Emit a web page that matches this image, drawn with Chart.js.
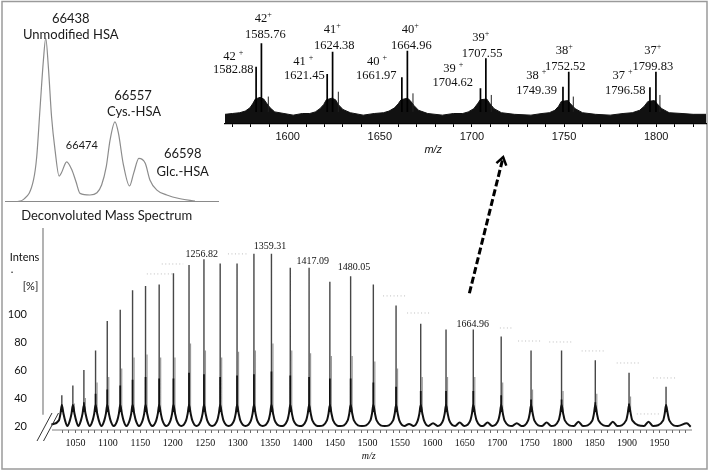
<!DOCTYPE html>
<html>
<head>
<meta charset="utf-8">
<script src="https://cdn.jsdelivr.net/npm/chart.js@4.4.1/dist/chart.umd.min.js"></script>
<style>
    html, body { margin: 0; padding: 0; background: #fff; }
    #wrap { position: relative; width: 709px; height: 471px; overflow: hidden; }
    canvas { position: absolute; }
</style>
</head>
<body>
<div id="wrap">
    <canvas id="main" width="709" height="471" style="left:0;top:0"></canvas>
    <canvas id="decon" width="222" height="228" style="left:0;top:0"></canvas>
    <canvas id="inset" width="509" height="180" style="left:200px;top:0"></canvas>
</div>
<script>
// === Main ESI spectrum (m/z vs Intens. [%]) ===
const mainPeakMz = [1029, 1046, 1063, 1081, 1099, 1119, 1138, 1158, 1179, 1201, 1225, 1248, 1273, 1299, 1325, 1352,
                    1381, 1410, 1442, 1474, 1509, 1544, 1582, 1621, 1663, 1706, 1752, 1799, 1851, 1903, 1960];
const mainPeakTop = [42, 49, 60, 74, 95, 103, 117, 120, 121, 129, 135, 139, 136, 136, 143, 143,
                     133, 133, 123, 127, 121, 106, 93, 89, 89, 84, 74, 74, 67, 58, 48];
const mainShoulderTop = [29, 36, 40, 51, 55, 61, 69, 71, 69, 69, 79, 74, 69, 73, 74, 79,
                         74, 72, 70, 70, 66, 61, 55, 55, 55, 51, 46, 45, 43, 41, 31];
const mainCoreTop = [31, 34, 37, 43, 46, 49, 53, 55, 54, 54, 58, 57, 55, 56, 57, 59,
                     56, 55, 54, 54, 51, 48, 45, 45, 45, 42, 39, 39, 37, 36, 31];
const mainBumps = [[1564, 21.5], [1601, 22], [1642, 22.5], [1685, 22.5], [1730, 22], [1776, 22.5],
                   [1825, 23], [1878, 23], [1933, 23], [1992, 22]];
const mainBaseline = 20;
// m/z offset and rise above baseline of the broad base under each peak
const humpProfile = [[-4.5, 4], [-2, 9], [0, 15], [2.5, 9], [5, 4]];
const mainShoulderOffset = 2.3;
const mainPeakLabels = [['1256.82', 1244.5, 142.9], ['1359.31', 1349.8, 148.1], ['1417.09', 1415.6, 137.9],
                        ['1480.05', 1479.2, 133.4], ['1664.96', 1662.1, 92.9]];
const maskedLabelMarks = [[1160, 1200, 128.6], [1183, 1216, 135.7], [1285, 1314, 142.9], [1524, 1561, 112.9],
                          [1561, 1598, 100.7], [1704, 1723, 90], [1732, 1766, 80.7], [1780, 1815, 80],
                          [1830, 1866, 73.6], [1884, 1918, 65], [1915, 1949, 28.6], [1940, 1975, 54.3]];
const mainXTickLabels = [1050, 1100, 1150, 1200, 1250, 1300, 1350, 1400, 1450, 1500,
                         1550, 1600, 1650, 1700, 1750, 1800, 1850, 1900, 1950];
const mainYTicks = [20, 40, 60, 80, 100];

// === Zoomed inset (1566 - 1827 m/z) ===
const insetPeakMz = [1582.88, 1585.76, 1621.45, 1624.38, 1661.97, 1664.96, 1704.62, 1707.55, 1749.39, 1752.52, 1796.58, 1799.83];
const insetPeakTop = [71, 100, 62, 89.6, 57.9, 90.8, 44.2, 81.4, 46.2, 64.8, 45.5, 64.8];
const insetMinorMz = [1589.5, 1627.5, 1668, 1710.5, 1755, 1802];
const insetMinorTop = [34, 40, 38, 36, 34, 36];
const insetNoiseTop = [[1566, 12], [1570, 13], [1574, 14], [1577, 16], [1579.5, 20], [1581, 25], [1582.5, 31], [1585, 33],
    [1587, 31], [1588.5, 26], [1590.5, 20], [1593, 15], [1598, 13], [1603, 11], [1608, 13], [1612, 13], [1615, 15],
    [1617.5, 19], [1619.5, 24], [1621, 30], [1624, 32], [1626, 30], [1627.5, 24], [1630, 18], [1634, 14], [1641, 11],
    [1647, 13], [1652, 14], [1655, 16], [1658, 20], [1660, 25], [1661.5, 30], [1665, 32], [1666.5, 29], [1668.5, 23],
    [1671, 17], [1676, 13], [1684, 11], [1690, 13], [1695, 13], [1698, 15], [1701, 19], [1703, 25], [1704.5, 30],
    [1708, 31], [1709.5, 26], [1712, 19], [1716, 14], [1723, 12], [1732, 11], [1738, 13], [1742, 14], [1745, 17],
    [1747, 22], [1748.5, 28], [1752, 29], [1753.5, 25], [1756, 19], [1760, 14], [1767, 12], [1775, 11], [1782, 13],
    [1787, 14], [1791, 17], [1793.5, 22], [1795.5, 28], [1799, 29], [1800.5, 25], [1803, 19], [1807, 14], [1814, 13],
    [1820, 12], [1827, 12]];
const insetValueLabels = [['1585.76', 1587.9, 111.2], ['1582.88', 1570.5, 66.9], ['1624.38', 1625.3, 96.7],
    ['1621.45', 1609.1, 59.5], ['1664.96', 1667.1, 96.7], ['1661.97', 1648.1, 59.5], ['1707.55', 1705.5, 87.6],
    ['1704.62', 1689.6, 51.2], ['1752.52', 1750.6, 71], ['1749.39', 1735.1, 41.3], ['1799.83', 1798.2, 71],
    ['1796.58', 1783.2, 41.3]];
// charge, spaced "+" or not, anchor
const insetChargeLabels = [['42', false, 1586.8, 130.1], ['42', true, 1570.5, 83], ['41', false, 1624.2, 117.3],
    ['41', true, 1608.5, 77.2], ['40', false, 1666.6, 116.5], ['40', true, 1648.5, 77.2], ['39', false, 1704.8, 106.9],
    ['39', true, 1689.9, 69], ['38', false, 1750.1, 90.5], ['38', true, 1734.9, 59.5], ['37', false, 1798.1, 90.5],
    ['37', true, 1781.7, 59.5]];
const insetXTickLabels = [1600, 1650, 1700, 1750, 1800];

// === Deconvoluted mass spectrum ===
const deconMass = [66388, 66400, 66417, 66422.5, 66428, 66434, 66438, 66442.5, 66448, 66454, 66461, 66465, 66474,
                   66483, 66490, 66497, 66514, 66526, 66534, 66542, 66548.5, 66557, 66563, 66571, 66582, 66589,
                   66598, 66609, 66617, 66629, 66646, 66669, 66694.5];
const deconIntensity = [0, 1.4, 13.3, 27.5, 56, 86.6, 100, 82.5, 52, 31.6, 15.7, 17.7, 24.4,
                        19.4, 12.2, 5.1, 4.1, 5.5, 10.2, 21.4, 37.7, 48.9, 41.8, 23.5, 9.6, 17.3,
                        26.5, 23.5, 13.3, 7.1, 4.1, 1.8, 0.4];
const deconLabels = [['66438', 66481, 112.2, 13], ['Unmodified HSA', 66481, 102, 13], ['66474', 66500, 34.3, 11],
                     ['66557', 66588, 64.7, 13], ['Cys.-HSA', 66589.7, 54.9, 13], ['66598', 66673.4, 29.2, 13],
                     ['Glc.-HSA', 66673.4, 18.2, 13], ['Deconvoluted Mass Spectrum', 66542.8, -8.75, 13]];

const SERIF = '"Liberation Serif", "Times New Roman", serif';
const SANS = '"Liberation Sans", Arial, sans-serif';
const CALI = 'Lato, "Open Sans", sans-serif';

// ---------- helpers ----------
const spikeLine = (xs, tops, base, dx) => {
    const pts = [];
    xs.forEach((mz, i) => {
        pts.push({ x: mz + dx, y: base }, { x: mz + dx, y: tops[i] }, { x: mz + dx, y: null });
    });
    return pts;
};

const buildEnvelope = () => {
    const pts = [{ x: 1013, y: 21 }];
    mainPeakMz.forEach((mz, i) => {
        if (i > 0) {
            const mid = (mainPeakMz[i - 1] + mz) / 2;
            const bump = mainBumps.find(b => Math.abs(b[0] - mid) < 8);
            if (bump) {
                pts.push({ x: bump[0] - 7, y: mainBaseline }, { x: bump[0], y: bump[1] }, { x: bump[0] + 7, y: mainBaseline });
            } else {
                pts.push({ x: mid, y: mainBaseline });
            }
        }
        humpProfile.forEach(([dx, dy]) => pts.push({ x: mz + dx, y: mainBaseline + dy }));
    });
    pts.push({ x: 1978, y: mainBaseline }, { x: 1992, y: 22 }, { x: 1998, y: 19.5 });
    return pts.sort((a, b) => a.x - b.x);
};

const maskedLine = () => {
    const pts = [];
    maskedLabelMarks.forEach(([x1, x2, y]) => pts.push({ x: x1, y }, { x: x2, y }, { x: x2, y: null }));
    return pts;
};

const drawCharge = (ctx, x, y, z, spaced, size) => {
    ctx.font = size + 'px ' + SERIF;
    const zw = ctx.measureText(z + (spaced ? ' ' : '')).width;
    ctx.font = (size * 0.65) + 'px ' + SERIF;
    const pw = ctx.measureText('+').width;
    const x0 = x - (zw + pw) / 2;
    ctx.textAlign = 'left';
    ctx.font = size + 'px ' + SERIF;
    ctx.fillText(z, x0, y);
    ctx.font = (size * 0.65) + 'px ' + SERIF;
    ctx.fillText('+', x0 + zw, y - size * 0.3);
    ctx.textAlign = 'center';
};

// ---------- main chart ----------
const mainDecor = {
    id: 'mainDecor',
    afterDraw(chart) {
        const { ctx, chartArea: a, scales: { x, y } } = chart;
        ctx.save();
        // axes with the broken corner
        ctx.strokeStyle = '#808080';
        ctx.lineWidth = 1.2;
        ctx.beginPath();
        ctx.moveTo(a.left, a.top);
        ctx.lineTo(a.left, y.getPixelForValue(28));
        ctx.moveTo(a.left + 9, a.bottom);
        ctx.lineTo(a.right, a.bottom);
        ctx.stroke();
        ctx.strokeStyle = '#333';
        ctx.lineWidth = 1;
        ctx.beginPath();
        ctx.moveTo(a.left - 6, a.bottom + 11); ctx.lineTo(a.left + 9, a.bottom - 17);
        ctx.moveTo(a.left + 0.5, a.bottom + 11); ctx.lineTo(a.left + 15.5, a.bottom - 17);
        ctx.stroke();

        ctx.fillStyle = '#111';
        ctx.textAlign = 'center';
        ctx.textBaseline = 'middle';
        // y title
        ctx.font = '11px ' + CALI;
        ctx.fillText('Intens', a.left - 18.5, y.getPixelForValue(140.7));
        ctx.fillText('.', a.left - 31, y.getPixelForValue(131.5));
        ctx.fillText('[%]', a.left - 12.5, y.getPixelForValue(120));
        // peak labels
        ctx.font = '10px ' + SERIF;
        mainPeakLabels.forEach(([t, mz, v]) => ctx.fillText(t, x.getPixelForValue(mz), y.getPixelForValue(v)));
        ctx.font = 'italic 10px ' + SERIF;
        ctx.fillText('m/z', x.getPixelForValue(1502), a.bottom + 26);

        // dashed arrow towards the inset
        const x1 = x.getPixelForValue(1657), y1 = y.getPixelForValue(114.8);
        const x2 = x.getPixelForValue(1709), y2 = y.getPixelForValue(212);
        ctx.strokeStyle = '#000';
        ctx.lineWidth = 3;
        ctx.setLineDash([7, 3]);
        ctx.beginPath();
        ctx.moveTo(x1, y1);
        ctx.lineTo(x2, y2);
        ctx.stroke();
        ctx.setLineDash([]);
        const ang = Math.atan2(y2 - y1, x2 - x1);
        ctx.lineWidth = 2.5;
        ctx.beginPath();
        ctx.moveTo(x2 - 9 * Math.cos(ang - 0.6), y2 - 9 * Math.sin(ang - 0.6));
        ctx.lineTo(x2, y2);
        ctx.lineTo(x2 - 9 * Math.cos(ang + 0.6), y2 - 9 * Math.sin(ang + 0.6));
        ctx.stroke();

        // figure frame
        ctx.strokeStyle = '#9a9a9a';
        ctx.lineWidth = 1.5;
        ctx.strokeRect(2, 1.5, 705, 467.5);
        ctx.restore();
    }
};

new Chart(document.getElementById('main'), {
    type: 'line',
    data: {
        datasets: [
            { data: buildEnvelope(), borderColor: '#111', borderWidth: 2, cubicInterpolationMode: 'monotone', order: 1 },
            { data: spikeLine(mainPeakMz, mainCoreTop, 30, 0), borderColor: '#111', borderWidth: 1.7, order: 2 },
            { data: spikeLine(mainPeakMz, mainPeakTop, 30, 0), borderColor: '#474747', borderWidth: 1.4, order: 3 },
            { data: spikeLine(mainPeakMz, mainShoulderTop, 28, mainShoulderOffset), borderColor: '#999', borderWidth: 1.2, order: 4 },
            { data: maskedLine(), borderColor: '#bdbdbd', borderWidth: 1, borderDash: [1, 2.5], order: 5 }
        ]
    },
    options: {
        responsive: false,
        animation: false,
        devicePixelRatio: 1,
        layout: { padding: { left: 0, right: 17, top: 228, bottom: 0 } },
        elements: { point: { radius: 0 }, line: { tension: 0 } },
        plugins: { legend: { display: false }, tooltip: { enabled: false } },
        scales: {
            x: {
                type: 'linear', min: 1000, max: 2000,
                afterFit: s => { s.height = 41; },
                afterBuildTicks: s => {
                    const t = [];
                    for (let v = 1030; v <= 1990; v += 10) t.push({ value: v });
                    s.ticks = t;
                },
                grid: { display: true, drawOnChartArea: false, tickLength: 3, color: '#666' },
                border: { display: false },
                ticks: {
                    autoSkip: false, maxRotation: 0, padding: 4, color: '#111',
                    font: { family: SERIF, size: 10 },
                    callback: v => mainXTickLabels.includes(v) ? String(v) : ''
                }
            },
            y: {
                min: 17.14, max: 161.4,
                afterFit: s => { s.width = 43; },
                afterBuildTicks: s => { s.ticks = mainYTicks.map(v => ({ value: v })); },
                grid: { display: false },
                border: { display: false },
                ticks: { padding: 8, color: '#111', font: { family: CALI, size: 11 } }
            }
        }
    },
    plugins: [mainDecor]
});

// ---------- deconvoluted spectrum ----------
const deconDecor = {
    id: 'deconDecor',
    afterDraw(chart) {
        const { ctx, scales: { x, y } } = chart;
        ctx.save();
        ctx.fillStyle = '#1a1a1a';
        ctx.textAlign = 'center';
        ctx.textBaseline = 'middle';
        deconLabels.forEach(([t, m, v, size]) => {
            ctx.font = size + 'px ' + CALI;
            ctx.fillText(t, x.getPixelForValue(m), y.getPixelForValue(v));
        });
        ctx.restore();
    }
};

new Chart(document.getElementById('decon'), {
    type: 'line',
    data: {
        datasets: [{
            data: deconMass.map((m, i) => ({ x: m, y: deconIntensity[i] })),
            borderColor: '#8c8c8c', borderWidth: 1.2, cubicInterpolationMode: 'monotone'
        }]
    },
    options: {
        responsive: false,
        animation: false,
        devicePixelRatio: 1,
        layout: { padding: { left: 5, right: 4, top: 10, bottom: 0 } },
        elements: { point: { radius: 0 } },
        plugins: { legend: { display: false }, tooltip: { enabled: false } },
        scales: {
            x: {
                type: 'linear', min: 66368, max: 66734,
                afterFit: s => { s.height = 26.3; },
                grid: { display: false },
                ticks: { display: false },
                border: { display: true, color: '#8a8a8a', width: 1, dash: [2, 2] }
            },
            y: { display: false, min: 0, max: 117.3 }
        }
    },
    plugins: [deconDecor]
});

// ---------- inset ----------
const insetDecor = {
    id: 'insetDecor',
    afterDraw(chart) {
        const { ctx, chartArea: a, scales: { x, y } } = chart;
        ctx.save();
        ctx.fillStyle = '#111';
        ctx.textAlign = 'center';
        ctx.textBaseline = 'middle';
        ctx.font = '12.5px ' + SERIF;
        insetValueLabels.forEach(([t, m, v]) => ctx.fillText(t, x.getPixelForValue(m), y.getPixelForValue(v)));
        insetChargeLabels.forEach(([z, spaced, m, v]) => drawCharge(ctx, x.getPixelForValue(m), y.getPixelForValue(v), z, spaced, 12.5));
        ctx.font = 'italic 11px ' + SANS;
        ctx.fillText('m/z', x.getPixelForValue(1679), a.bottom + 26);
        ctx.restore();
    }
};

new Chart(document.getElementById('inset'), {
    type: 'line',
    data: {
        datasets: [
            { data: spikeLine(insetPeakMz, insetPeakTop, 15, 0), borderColor: '#000', borderWidth: 1.7, order: 1 },
            { data: spikeLine(insetMinorMz, insetMinorTop, 15, 0), borderColor: '#222', borderWidth: 1, order: 2 },
            {
                data: insetNoiseTop.map(([m, v]) => ({ x: m, y: v })),
                borderColor: '#111', borderWidth: 1, backgroundColor: '#111',
                fill: { target: { value: 1 } }, order: 3
            }
        ]
    },
    options: {
        responsive: false,
        animation: false,
        devicePixelRatio: 1,
        layout: { padding: { left: 25, right: 3, top: 10, bottom: 0 } },
        elements: { point: { radius: 0 }, line: { tension: 0 } },
        plugins: { legend: { display: false }, tooltip: { enabled: false } },
        scales: {
            x: {
                type: 'linear', min: 1566, max: 1827,
                afterFit: s => { s.height = 56; },
                afterBuildTicks: s => {
                    const t = [];
                    for (let v = 1570; v <= 1820; v += 10) t.push({ value: v });
                    s.ticks = t;
                },
                grid: { display: true, drawOnChartArea: false, tickLength: 3, color: '#000' },
                border: { display: true, color: '#000', width: 1.2 },
                ticks: {
                    autoSkip: false, maxRotation: 0, padding: 3, color: '#111',
                    font: { family: SANS, size: 11 },
                    callback: v => insetXTickLabels.includes(v) ? String(v) : ''
                }
            },
            y: { display: false, min: 0, max: 141.3 }
        }
    },
    plugins: [insetDecor]
});
</script>
</body>
</html>
